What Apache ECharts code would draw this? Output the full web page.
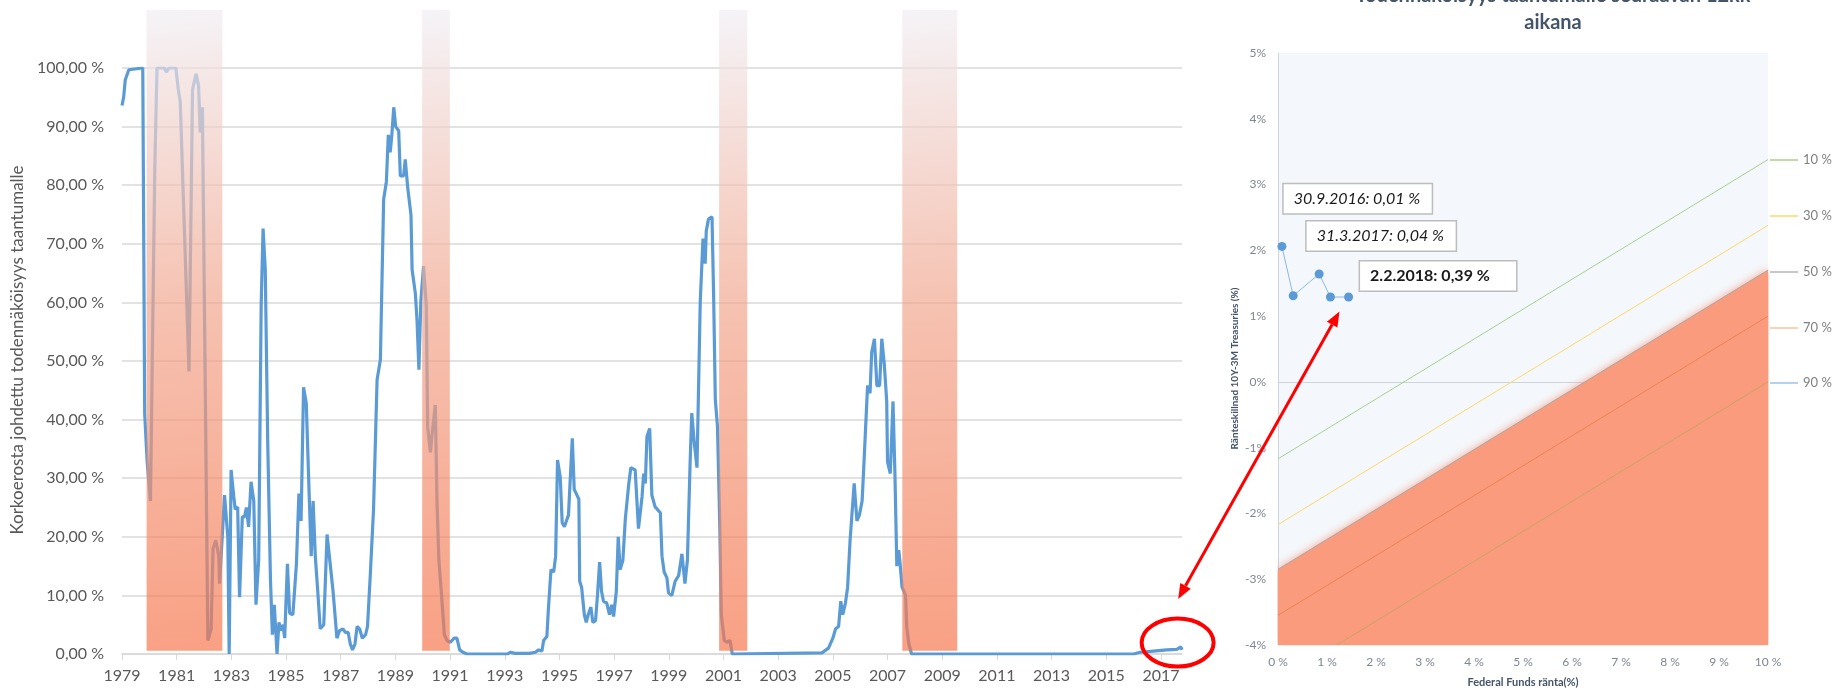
<!DOCTYPE html>
<html>
<head>
<meta charset="utf-8">
<script src="https://cdn.jsdelivr.net/npm/echarts@6/dist/echarts.min.js"></script>
<style>
  html, body { margin: 0; padding: 0; background: #fff; }
  #chart { width: 1834px; height: 693px; }
</style>
</head>
<body>
<div id="chart"></div>
<script>
// vasen kuva: taantuman todennäköisyys (vuosi, %)
var probYears = [
  1979.00,1979.06,1979.12,1979.25,1979.32,1979.76,1979.83,1979.92,1980.04,1980.20,
  1980.28,1980.55,1980.62,1980.72,1980.97,1981.06,1981.13,1981.45,1981.58,1981.71,
  1981.80,1981.86,1981.94,1981.99,1982.14,1982.26,1982.33,1982.43,1982.54,1982.57,
  1982.75,1982.87,1982.92,1982.99,1983.09,1983.14,1983.23,1983.30,1983.40,1983.48,
  1983.55,1983.63,1983.72,1983.82,1983.90,1984.00,1984.09,1984.16,1984.24,1984.33,
  1984.43,1984.50,1984.57,1984.62,1984.67,1984.74,1984.81,1984.89,1984.95,1985.05,
  1985.13,1985.25,1985.38,1985.47,1985.55,1985.64,1985.74,1985.84,1985.92,1985.99,
  1986.07,1986.16,1986.25,1986.38,1986.50,1986.60,1986.72,1986.77,1986.86,1986.96,
  1987.08,1987.17,1987.27,1987.35,1987.43,1987.52,1987.60,1987.69,1987.79,1987.91,
  1987.98,1988.08,1988.20,1988.33,1988.45,1988.57,1988.67,1988.74,1988.81,1988.87,
  1988.94,1989.01,1989.12,1989.18,1989.30,1989.36,1989.45,1989.57,1989.61,1989.73,
  1989.79,1989.86,1989.93,1990.03,1990.13,1990.18,1990.28,1990.37,1990.46,1990.52,
  1990.59,1990.72,1990.79,1990.89,1991.01,1991.15,1991.25,1991.35,1991.47,1991.62,
  1993.10,1993.20,1993.38,1993.90,1994.12,1994.24,1994.36,1994.42,1994.54,1994.60,
  1994.69,1994.79,1994.86,1994.93,1995.03,1995.10,1995.18,1995.25,1995.33,1995.39,
  1995.47,1995.54,1995.64,1995.71,1995.74,1995.81,1995.91,1995.98,1996.05,1996.15,
  1996.22,1996.32,1996.39,1996.47,1996.54,1996.61,1996.73,1996.83,1996.91,1996.98,
  1997.08,1997.15,1997.22,1997.32,1997.41,1997.47,1997.53,1997.61,1997.77,1997.89,
  1998.02,1998.08,1998.14,1998.20,1998.30,1998.38,1998.50,1998.69,1998.75,1998.83,
  1998.93,1998.99,1999.11,1999.17,1999.23,1999.36,1999.48,1999.59,1999.68,1999.78,
  1999.84,1999.93,2000.03,2000.15,2000.25,2000.33,2000.37,2000.45,2000.58,2000.64,
  2000.70,2000.78,2000.86,2000.92,2001.03,2001.12,2001.24,2001.32,2004.60,2004.84,
  2005.00,2005.10,2005.21,2005.29,2005.36,2005.46,2005.54,2005.63,2005.78,2005.88,
  2005.97,2006.07,2006.14,2006.27,2006.36,2006.42,2006.52,2006.61,2006.71,2006.79,
  2006.88,2006.97,2007.00,2007.10,2007.20,2007.27,2007.34,2007.41,2007.46,2007.53,
  2007.66,2007.70,2007.78,2007.88,2016.00,2016.24,2016.72,2017.21,2017.58,2017.73,
  2017.77
];
var probValues = [
  93.6,95.0,98.0,99.7,100,100,41,32.8,26.1,83,
  100,100,99.3,100,100,96.3,94.3,48.2,96.3,99,
  97,89,93.3,93,2.3,4.3,18,19.4,16.7,12,
  27.1,20,0,31.4,26.8,24.7,25.1,9.7,23.4,23.4,
  25,21.7,29.4,26.1,8.4,16,59.5,72.6,65.6,36.1,
  12.7,3.3,8.4,8.6,0,5.4,4,5,2.7,15.4,
  7,6.7,15.4,27.4,22.7,45.5,42.8,28,16.7,26.1,
  16.7,10.7,4.3,5,20.4,16,10.7,10.4,2.7,4,
  4.3,3.7,3.7,1.7,0.7,1.7,4.7,4.3,2.7,3.3,
  4.7,13.4,24.7,46.8,50.2,77.6,80.6,88.6,85.6,88.6,
  93.3,90,89.3,81.6,81.6,84.4,79.6,74.9,65.6,61.5,
  57,48.5,60.2,66.2,59.5,38.8,34.4,38.8,42.5,26.1,
  16,8,3.3,2.3,2,2.7,2.7,0.7,0.3,0,
  0,0.3,0.1,0.1,0.3,0.7,0.5,2.3,3,8,
  14.4,14,16.7,33.1,30.1,22.4,21.7,21.4,23.7,29.4,
  36.8,28.1,27.1,26.4,12.4,11.4,6.7,5.4,6.7,8,
  5.4,5.7,10,15.7,10.7,9,8.7,6.7,8.4,6.4,
  10.7,20,14.4,16,23.1,23.1,28.8,31.8,31.4,21.4,
  26.8,30.8,29.1,37.1,38.5,27.1,25.1,24.1,16.7,14,
  13,10.4,10,9.7,12.4,13.4,17.1,12,16,32.8,
  41.1,36.1,31.8,60.2,70.9,66.6,72.2,74.2,74.6,60.9,
  43.5,38.8,22.7,6.7,2.3,2,2.3,0,0.2,1,
  2.7,4.3,4.7,9,6.7,8.7,11.4,19.4,29.1,22.7,
  23.7,26.1,32.8,45.8,44.5,51.5,53.8,45.8,45.8,53.8,
  49.5,43.1,32.8,30.8,43.1,30.8,15,17.7,15.4,11.4,
  10,4.7,1.7,0,0,0.3,0.5,0.7,0.8,1.2,
  0.7
];
// taantumajaksot (alku, loppu)
var recessionStart = [1979.90, 1989.98, 2000.84, 2007.54];
var recessionEnd = [1982.67, 1990.99, 2001.87, 2009.55];
var yearTicks = [1979,1981,1983,1985,1987,1989,1991,1993,1995,1997,1999,2001,2003,2005,2007,2009,2011,2013,2015,2017];

// oikea kuva: Federal Funds -korko ja korkoero
var ffRate = [0.08, 0.31, 0.84, 1.07, 1.44];
var spread = [2.06, 1.31, 1.64, 1.29, 1.29];
var pointLabels = ['', '30.9.2016: 0,01 %', '31.3.2017: 0,04 %', '', '2.2.2018: 0,39 %'];
var isoNames = ['10 %', '30 %', '50 %', '70 %', '90 %'];
var isoX0 = [0, 0, 0, 0, 1.2];
var isoY0 = [-1.17, -2.17, -2.85, -3.55, -4];
var isoX1 = [10, 10, 10, 10, 10];
var isoY1 = [3.38, 2.38, 1.70, 1.00, 0];
var ffTicks = [0,1,2,3,4,5,6,7,8,9,10];

var FONT = 'Lato';
var isoColors = ['#a9d18e', '#ffd966', '#a9a9a9', '#ef8350', '#c9a463'];
var isoLegendColors = ['#a9d18e', '#ffd966', '#b4b4b4', '#f8c29c', '#9dc3e6'];
var isoLegendY = [160, 216, 272, 328, 383];
var labelPos = [null, [-5, -107], [-8, -48], null, [16, -31]];
var labelWidth = [0, 128, 129, 0, 136];

var chart = echarts.init(document.getElementById('chart'));

var probData = probYears.map(function (y, i) { return [y, probValues[i]]; });
var recData = recessionStart.map(function (s, i) { return [s, recessionEnd[i]]; });

var barFill = new echarts.graphic.LinearGradient(0, 0, 1, 1, [
  { offset: 0, color: '#f0eef4' },
  { offset: 0.45, color: '#f1a890' },
  { offset: 1, color: '#f5774f' }
]);

var isoSeries = isoNames.map(function (n, i) {
  var s = {
    name: n,
    type: 'line',
    xAxisIndex: 2,
    yAxisIndex: 2,
    symbol: 'none',
    silent: true,
    z: i === 2 ? 2 : 3,
    lineStyle: { color: isoColors[i], width: 1 },
    itemStyle: { color: isoLegendColors[i] },
    data: [[isoX0[i], isoY0[i]], [isoX1[i], isoY1[i]]]
  };
  if (i === 2) {
    s.areaStyle = {
      origin: 'start',
      color: '#f99b7c',
      opacity: 1,
      shadowBlur: 9,
      shadowColor: 'rgba(249,150,120,0.9)'
    };
  }
  return s;
});

var pointData = ffRate.map(function (x, i) {
  var item = { value: [x, spread[i]] };
  if (pointLabels[i]) {
    item.label = {
      show: true,
      formatter: pointLabels[i],
      position: labelPos[i],
      align: 'left',
      verticalAlign: 'top',
      width: labelWidth[i],
      fontFamily: FONT,
      fontSize: 16,
      fontStyle: i === 4 ? 'normal' : 'italic',
      fontWeight: i === 4 ? 'bold' : 'normal',
      color: '#1a1a1a',
      lineHeight: 19,
      backgroundColor: '#ffffff',
      borderColor: '#bdbdbd',
      borderWidth: 1.5,
      padding: [5, 10]
    };
  }
  return item;
});

var legends = isoNames.map(function (n, i) {
  return {
    data: [{ name: n, itemStyle: { color: isoLegendColors[i] } }],
    left: 1770,
    top: isoLegendY[i] - 8,
    padding: 0,
    icon: 'rect',
    itemWidth: 28,
    itemHeight: 1.5,
    selectedMode: false,
    textStyle: { fontFamily: FONT, fontSize: 13, color: '#7f7f7f', lineHeight: 16 }
  };
});

chart.setOption({
  animation: false,
  textStyle: { fontFamily: FONT },
  title: {
    text: 'Todennäköisyys taantumalle seuraavan 12kk\naikana',
    left: 1553,
    top: -18,
    textAlign: 'center',
    padding: 0,
    textStyle: { fontFamily: FONT, fontSize: 20, fontWeight: 'bold', color: '#44546a', lineHeight: 27 }
  },
  legend: legends,
  grid: [
    { left: 122, right: 652, top: 68, bottom: 39 },
    { left: 122, right: 652, top: 10, bottom: 39 },
    { left: 1278, right: 66, top: 53, bottom: 45, show: true, backgroundColor: '#f4f8fc', borderWidth: 0 }
  ],
  xAxis: [
    {
      gridIndex: 0, type: 'value', min: 1979, max: 2017.77,
      axisLine: { lineStyle: { color: '#d9d9d9', width: 1.5 } },
      axisTick: { customValues: yearTicks, length: 6, lineStyle: { color: '#d9d9d9' } },
      axisLabel: {
        customValues: yearTicks, fontFamily: FONT, fontSize: 16, color: '#595959', margin: 14,
        formatter: function (v) { return String(v); }
      },
      splitLine: { show: false }
    },
    { gridIndex: 1, type: 'value', min: 1979, max: 2017.77, show: false },
    {
      gridIndex: 2, type: 'value', min: 0, max: 10, interval: 1,
      name: 'Federal Funds ränta(%)', nameLocation: 'middle', nameGap: 32,
      nameTextStyle: { fontFamily: FONT, fontSize: 11, fontWeight: 'bold', color: '#44546a' },
      axisLine: { lineStyle: { color: '#cdd4dc' } },
      axisTick: { show: false },
      axisLabel: { customValues: ffTicks, formatter: function (v) { return v + ' %'; }, fontFamily: FONT, fontSize: 12, color: '#7f8691', margin: 11 },
      splitLine: { show: false }
    }
  ],
  yAxis: [
    {
      gridIndex: 0, type: 'value', min: 0, max: 100, interval: 10,
      name: 'Korkoerosta johdettu todennäköisyys taantumalle',
      nameLocation: 'middle', nameGap: 96,
      nameTextStyle: { fontFamily: FONT, fontSize: 17, color: '#595959', padding: [0, 0, 0, 22] },
      axisLine: { show: false },
      axisTick: { show: false },
      axisLabel: {
        fontFamily: FONT, fontSize: 16, color: '#595959', margin: 18,
        formatter: function (v) { return v.toFixed(2).replace('.', ',') + ' %'; }
      },
      splitLine: { lineStyle: { color: '#d9d9d9', width: 1.5 } }
    },
    { gridIndex: 1, type: 'value', min: 0, max: 1, show: false },
    {
      gridIndex: 2, type: 'value', min: -4, max: 5, interval: 1,
      name: 'Ränteskillnad 10Y-3M Treasuries (%)',
      nameLocation: 'middle', nameGap: 38,
      nameTextStyle: { fontFamily: FONT, fontSize: 10, fontWeight: 'bold', color: '#44546a', padding: [0, 39, 0, 0] },
      axisLine: { show: true, lineStyle: { color: '#cdd4dc' } },
      axisTick: { show: false },
      axisLabel: { formatter: function (v) { return v + '%'; }, fontFamily: FONT, fontSize: 12, color: '#7f8691', margin: 12 },
      splitLine: { show: false }
    }
  ],
  series: [
    {
      name: 'Todennäköisyys',
      type: 'line',
      xAxisIndex: 0,
      yAxisIndex: 0,
      symbol: 'none',
      z: 2,
      lineStyle: { color: '#5b9bd5', width: 3.2 },
      data: probData
    },
    {
      name: 'Taantuma',
      type: 'custom',
      xAxisIndex: 1,
      yAxisIndex: 1,
      z: 4,
      silent: true,
      renderItem: function (params, api) {
        var p0 = api.coord([api.value(0), 1]);
        var p1 = api.coord([api.value(1), 0.005]);
        return {
          type: 'rect',
          shape: { x: p0[0], y: p0[1], width: p1[0] - p0[0], height: p1[1] - p0[1] },
          style: { fill: barFill, opacity: 0.7 }
        };
      },
      encode: { x: [0, 1] },
      data: recData
    }
  ].concat(isoSeries).concat([
    {
      name: 'Havainnot',
      type: 'line',
      xAxisIndex: 2,
      yAxisIndex: 2,
      symbol: 'circle',
      symbolSize: 9,
      z: 6,
      itemStyle: { color: '#5b9bd5' },
      lineStyle: { color: '#8ab8e2', width: 1 },
      data: pointData
    }
  ])
});

// punaiset merkinnät: ympyrä ja nuoli
var ringCenter = chart.convertToPixel({ gridIndex: 0 }, [2017.61, 1.96]);
var arrowA = chart.convertToPixel({ gridIndex: 0 }, [2017.63, 9.4]);
var arrowB = chart.convertToPixel({ gridIndex: 2 }, [1.255, 1.07]);

function arrowHead(tip, from) {
  var dx = tip[0] - from[0], dy = tip[1] - from[1];
  var len = Math.sqrt(dx * dx + dy * dy);
  var ux = dx / len, uy = dy / len;
  var L = 15, W = 6;
  var bx = tip[0] - ux * L, by = tip[1] - uy * L;
  return {
    base: [bx, by],
    points: [tip, [bx - uy * W, by + ux * W], [bx + uy * W, by - ux * W]]
  };
}
var headA = arrowHead(arrowA, arrowB);
var headB = arrowHead(arrowB, arrowA);

chart.setOption({
  graphic: [
    {
      type: 'ellipse', silent: true, z: 100,
      shape: { cx: ringCenter[0], cy: ringCenter[1], rx: 36, ry: 24 },
      style: { fill: 'none', stroke: '#ff0000', lineWidth: 4 }
    },
    {
      type: 'line', silent: true, z: 100,
      shape: { x1: headA.base[0], y1: headA.base[1], x2: headB.base[0], y2: headB.base[1] },
      style: { stroke: '#ff0000', lineWidth: 3 }
    },
    { type: 'polygon', silent: true, z: 100, shape: { points: headA.points }, style: { fill: '#ff0000' } },
    { type: 'polygon', silent: true, z: 100, shape: { points: headB.points }, style: { fill: '#ff0000' } }
  ]
});
</script>
</body>
</html>
